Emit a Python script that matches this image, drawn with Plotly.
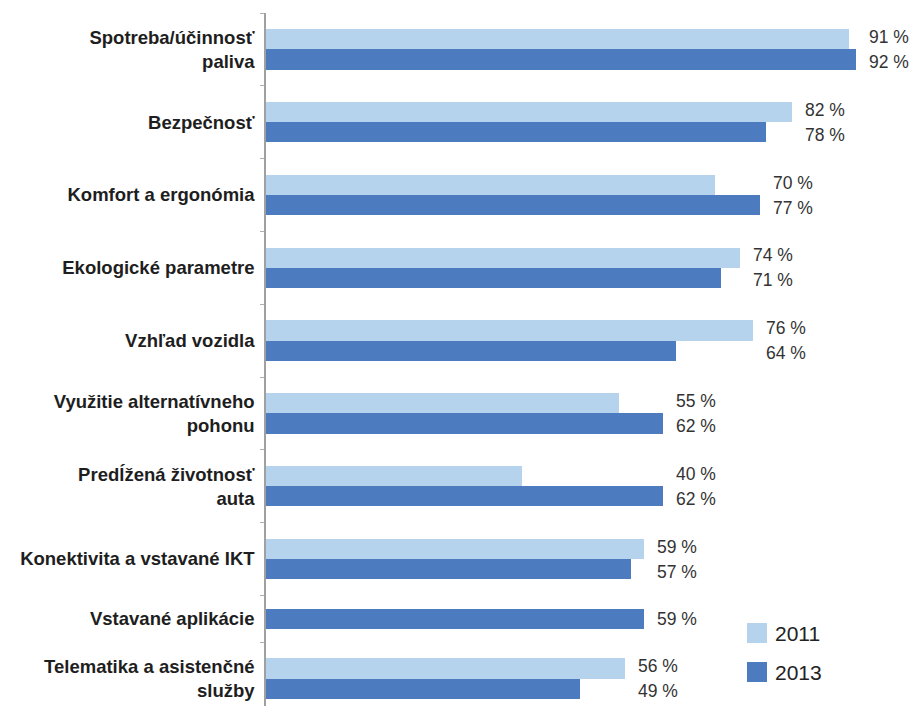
import plotly.graph_objects as go

# Survey data: share of respondents naming each factor
categories = [
    "Spotreba/účinnosť<br>paliva",
    "Bezpečnosť",
    "Komfort a ergonómia",
    "Ekologické parametre",
    "Vzhľad vozidla",
    "Využitie alternatívneho<br>pohonu",
    "Predĺžená životnosť<br>auta",
    "Konektivita a vstavané IKT",
    "Vstavané aplikácie",
    "Telematika a asistenčné<br>služby",
]
values_2011 = [91, 82, 70, 74, 76, 55, 40, 59, None, 56]
values_2013 = [92, 78, 77, 71, 64, 62, 62, 57, 59, 49]
series_names = ["2011", "2013"]

COLOR_2011 = "#b5d3ec"
COLOR_2013 = "#4c7bc0"

# Band layout: each category gets one slot per present bar plus padding
SLOT, PAD, BAR = 1.0, 0.8, 0.78
band_starts, band_centers, pos_2011, pos_2013 = [], [], [], []
cursor = 0.0
for v11, v13 in zip(values_2011, values_2013):
    n = sum(v is not None for v in (v11, v13))
    height = n * SLOT + PAD
    center = cursor + height / 2
    band_starts.append(cursor)
    band_centers.append(center)
    if n == 2:
        pos_2011.append(center - BAR / 2)
        pos_2013.append(center + BAR / 2)
    else:
        pos_2011.append(center)
        pos_2013.append(center)
    cursor += height
band_starts.append(cursor)

W, H = 912, 706
ML, MR, MT, MB = 266, 0, 13, 0
PX_PER_UNIT_X = 6.41
PX_PER_UNIT_Y = 26.0
x_max = (W - ML - MR) / PX_PER_UNIT_X
y_max = (H - MT - MB) / PX_PER_UNIT_Y

fig = go.Figure()
for name, vals, pos, color in [
    (series_names[0], values_2011, pos_2011, COLOR_2011),
    (series_names[1], values_2013, pos_2013, COLOR_2013),
]:
    ys = [p for p, v in zip(pos, vals) if v is not None]
    xs = [v for v in vals if v is not None]
    fig.add_trace(go.Bar(
        x=xs, y=ys, orientation="h", width=BAR, name=name,
        marker=dict(color=color, line=dict(width=0)),
        showlegend=False, hoverinfo="x",
    ))

# Value labels, stacked to the right of the longer bar of each pair
annotations = []
for v11, v13, c in zip(values_2011, values_2013, band_centers):
    present = [v for v in (v11, v13) if v is not None]
    xr = max(present)
    if len(present) == 2:
        items = [(v11, -12.5), (v13, 12.5)]
    else:
        items = [(present[0], 0)]
    for v, dy in items:
        annotations.append(dict(
            x=xr, y=c, xref="x", yref="y", text=f"{v} %",
            showarrow=False, xanchor="left", yanchor="middle",
            xshift=11, yshift=-dy,
            font=dict(family="Liberation Sans, Arial, sans-serif", size=17.5, color="#333333"),
        ))

# Legend drawn as squares with labels in the lower right
def px_to_paper(px, py):
    return (px - ML) / (W - ML - MR), (H - MB - py) / (H - MT - MB)

shapes = []
for i, (name, color) in enumerate(zip(series_names, [COLOR_2011, COLOR_2013])):
    top = 623 + i * 39
    x0, y0 = px_to_paper(747, top + 20)
    x1, y1 = px_to_paper(767, top)
    shapes.append(dict(type="rect", xref="paper", yref="paper",
                       x0=x0, y0=y0, x1=x1, y1=y1,
                       fillcolor=color, line=dict(width=0)))
    tx, ty = px_to_paper(773, top + 10)
    annotations.append(dict(
        x=tx, y=ty, xref="paper", yref="paper", text=name, showarrow=False,
        xanchor="left", yanchor="middle",
        font=dict(family="Liberation Sans, Arial, sans-serif", size=21, color="#222222"),
    ))

fig.update_layout(
    width=W, height=H,
    margin=dict(l=ML, r=MR, t=MT, b=MB, pad=0),
    paper_bgcolor="white", plot_bgcolor="white",
    bargap=0, barmode="overlay",
    annotations=annotations, shapes=shapes,
    showlegend=False,
    xaxis=dict(range=[0, x_max], visible=False, fixedrange=True),
    yaxis=dict(
        range=[y_max, 0],
        tickmode="array", tickvals=band_centers, ticktext=categories,
        ticks="", ticklabelstandoff=6, ticklabeloverflow="allow",
        showline=True, linecolor="#a0a0a0", linewidth=1.5,
        showgrid=False, zeroline=False,
        tickfont=dict(family="Liberation Sans, Arial, sans-serif", size=18.5, color="#1e1e1e", weight="bold"),
        minor=dict(tickmode="array", tickvals=band_starts, ticks="outside",
                   ticklen=4, tickwidth=1.2, tickcolor="#b0b0b0", showgrid=False),
        fixedrange=True,
    ),
)

fig.write_html("out.html")
